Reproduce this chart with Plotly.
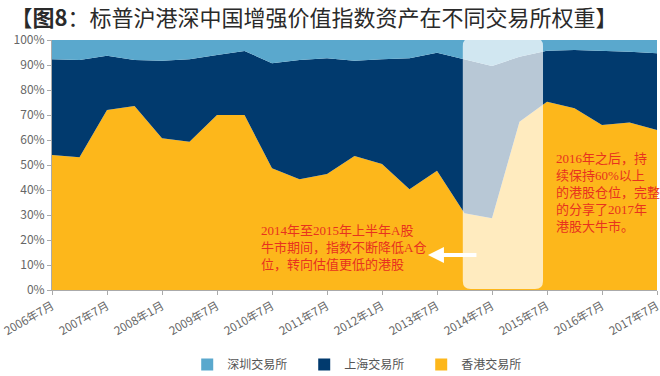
import plotly.graph_objects as go

# ---- data (percent) ----
tick_labels = ["2006年7月", "2007年7月", "2008年1月", "2009年7月", "2010年7月", "2011年7月",
               "2012年1月", "2013年7月", "2014年7月", "2015年7月", "2016年7月", "2017年7月"]
hk = [54.0, 53.1, 72.0, 73.6, 60.7, 59.3, 70.0, 70.0, 48.7, 44.3, 46.4, 53.6,
      50.4, 40.3, 47.7, 30.7, 28.7, 67.3, 75.3, 72.7, 66.0, 67.0, 64.0]
hk_plus_sh = [92.3, 92.0, 93.7, 92.0, 91.7, 92.3, 94.0, 95.6, 90.7, 92.0, 92.7, 91.7,
              92.3, 92.7, 94.9, 92.3, 89.6, 93.3, 95.7, 96.0, 95.7, 95.3, 94.7]
sh = [round(t - h, 1) for t, h in zip(hk_plus_sh, hk)]
sz = [round(100 - t, 1) for t in hk_plus_sh]
xs = list(range(len(hk)))
tick_pos = xs[::2]

C_SZ = "#5AA8CD"
C_SH = "#013A6E"
C_HK = "#FDB71B"
RED = "#E8321E"

fig = go.Figure()
for name, vals, col in [("香港交易所", hk, C_HK), ("上海交易所", sh, C_SH), ("深圳交易所", sz, C_SZ)]:
    fig.add_trace(go.Scatter(x=xs, y=vals, stackgroup="one", mode="lines",
                             line=dict(width=0, color=col), fillcolor=col,
                             name=name, showlegend=False, hoverinfo="skip"))
for name, col in [("深圳交易所", C_SZ), ("上海交易所", C_SH), ("香港交易所", C_HK)]:
    fig.add_trace(go.Scatter(x=[None], y=[None], mode="markers", name=name,
                             marker=dict(symbol="square", size=12, color=col)))

# highlight rounded box (paper coords)
x0, x1, y0, y1 = 0.679, 0.8116, 0.004, 1.008
rx, ry = 0.0132, 0.032
path = (f"M{x0+rx},{y1} L{x1-rx},{y1} Q{x1},{y1} {x1},{y1-ry} L{x1},{y0+ry} "
        f"Q{x1},{y0} {x1-rx},{y0} L{x0+rx},{y0} Q{x0},{y0} {x0},{y0+ry} "
        f"L{x0},{y1-ry} Q{x0},{y1} {x0+rx},{y1} Z")
fig.add_shape(type="path", path=path, xref="paper", yref="paper",
              fillcolor="rgba(255,255,255,0.72)", line=dict(width=0), layer="above")

txtfont = dict(family="Liberation Serif, Noto Sans CJK SC", size=13, color=RED)
fig.add_annotation(x=7.53, y=27.5, xref="x", yref="y", xanchor="left", yanchor="top",
                   align="left", showarrow=False, font=txtfont,
                   text="2014年至2015年上半年A股<br>牛市期间，指数不断降低A仓<br>位，转向估值更低的港股")
fig.add_annotation(x=18.25, y=56.5, xref="x", yref="y", xanchor="left", yanchor="top",
                   align="left", showarrow=False, font=txtfont,
                   text="2016年之后，持<br>续保持60%以上<br>的港股仓位，完整<br>的分享了2017年<br>港股大牛市。")
fig.add_annotation(x=13.67, y=14, xref="x", yref="y", ax=50, ay=0, text="",
                   showarrow=True, arrowhead=2, arrowsize=0.8, arrowwidth=4,
                   arrowcolor="#FFFFFF")

fig.update_layout(
    width=660, height=376,
    margin=dict(l=52, r=3, t=40, b=86, autoexpand=False),
    paper_bgcolor="white", plot_bgcolor="white",
    title=dict(text="【<b>图8</b>：标普沪港深中国增强价值指数资产在不同交易所权重】",
               x=0.016, xanchor="left", y=0.952, yanchor="middle",
               font=dict(family="Noto Sans CJK SC", size=22, color="#2A2A2A")),
    font=dict(family="Noto Sans CJK SC", color="#666666"),
    showlegend=True,
    legend=dict(orientation="h", x=0.2235, xanchor="left", y=-0.24, yanchor="top",
                traceorder="normal",
                font=dict(size=12, color="#555555"), itemwidth=30,
                entrywidth=72, entrywidthmode="pixels", bgcolor="rgba(0,0,0,0)"),
    xaxis=dict(range=[0, 22], tickmode="array", tickvals=tick_pos, ticktext=tick_labels,
               tickangle=-30, showgrid=False, zeroline=False, showline=True,
               automargin=False, ticklabeloverflow="allow",
               linecolor="#AAAAAA", linewidth=1, ticks="outside", ticklen=4,
               tickcolor="#AAAAAA", tickfont=dict(size=11.5, color="#666666")),
    yaxis=dict(range=[0, 100], tickvals=list(range(0, 101, 10)),
               ticktext=[f"{v}%" for v in range(0, 101, 10)], automargin=False,
               showgrid=False, zeroline=False, showline=True, linecolor="#AAAAAA",
               linewidth=1, ticks="outside", ticklen=4, tickcolor="#AAAAAA",
               tickfont=dict(size=12, color="#666666")),
)

fig.write_html("out.html", config={"displayModeBar": False},
               post_script="document.body.style.margin='0';document.body.style.padding='0';document.body.style.overflow='hidden';")
